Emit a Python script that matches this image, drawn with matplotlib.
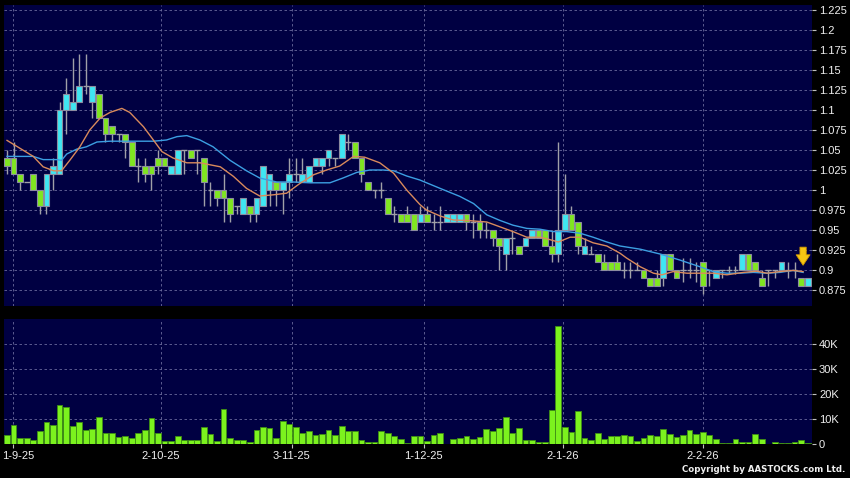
"""Daily candlestick chart with 2 moving averages and volume panel (AASTOCKS style)."""
import matplotlib
matplotlib.use('Agg')
import matplotlib.pyplot as plt
from matplotlib.transforms import ScaledTranslation
import numpy as np

# ---- data ------------------------------------------------------------------
opens = [1.04, 1.04, 1.02, 1.01, 1.02, 1.00, 0.98, 1.02, 1.02, 1.10,
         1.10, 1.11, 1.13, 1.11, 1.12, 1.09, 1.08, 1.07, 1.07, 1.06,
         1.03, 1.03, 1.03, 1.04, 1.04, 1.02, 1.02, 1.05, 1.05, 1.05,
         1.04, 1.00, 1.00, 1.00, 0.99, 0.98, 0.97, 0.98, 0.97, 0.98,
         1.00, 1.01, 1.00, 1.01, 1.02, 1.01, 1.01, 1.03, 1.03, 1.04,
         1.04, 1.04, 1.06, 1.06, 1.04, 1.01, 1.00, 1.00, 0.99, 0.97,
         0.97, 0.97, 0.97, 0.96, 0.97, 0.96, 0.96, 0.96, 0.96, 0.96,
         0.97, 0.96, 0.96, 0.95, 0.95, 0.94, 0.92, 0.94, 0.93, 0.93,
         0.94, 0.95, 0.95, 0.93, 0.92, 0.95, 0.97, 0.96, 0.92, 0.92,
         0.92, 0.91, 0.91, 0.91, 0.90, 0.90, 0.90, 0.90, 0.89, 0.89,
         0.89, 0.92, 0.90, 0.90, 0.90, 0.90, 0.91, 0.90, 0.89, 0.90,
         0.90, 0.90, 0.90, 0.92, 0.91, 0.89, 0.90, 0.90, 0.90, 0.90,
         0.90, 0.89, 0.88]
highs = [1.05, 1.06, 1.02, 1.01, 1.02, 1.00, 1.02, 1.04, 1.11, 1.14,
         1.165, 1.17, 1.17, 1.13, 1.12, 1.09, 1.08, 1.07, 1.07, 1.06,
         1.04, 1.04, 1.03, 1.05, 1.04, 1.03, 1.05, 1.05, 1.05, 1.05,
         1.04, 1.01, 1.00, 1.02, 0.99, 0.98, 0.99, 0.98, 0.99, 1.03,
         1.02, 1.01, 1.01, 1.04, 1.04, 1.04, 1.03, 1.04, 1.04, 1.05,
         1.04, 1.07, 1.07, 1.06, 1.04, 1.01, 1.00, 1.01, 0.99, 0.98,
         0.97, 0.98, 0.97, 0.98, 0.98, 0.97, 0.98, 0.97, 0.97, 0.97,
         0.97, 0.97, 0.97, 0.96, 0.95, 0.94, 0.94, 0.95, 0.93, 0.94,
         0.95, 0.95, 0.95, 0.95, 1.06, 1.02, 0.98, 0.96, 0.94, 0.93,
         0.92, 0.92, 0.91, 0.92, 0.91, 0.91, 0.91, 0.90, 0.89, 0.90,
         0.92, 0.92, 0.90, 0.915, 0.915, 0.91, 0.91, 0.90, 0.90, 0.90,
         0.905, 0.905, 0.92, 0.92, 0.91, 0.90, 0.90, 0.90, 0.91, 0.91,
         0.91, 0.89, 0.89]
lows = [1.02, 1.02, 1.00, 1.01, 1.00, 0.97, 0.97, 1.00, 1.02, 1.07,
        1.10, 1.11, 1.12, 1.09, 1.09, 1.06, 1.06, 1.06, 1.04, 1.03,
        1.01, 1.01, 1.00, 1.02, 1.03, 1.02, 1.02, 1.02, 1.04, 1.02,
        0.98, 0.98, 0.98, 0.96, 0.96, 0.97, 0.97, 0.96, 0.96, 0.98,
        0.98, 0.98, 0.97, 0.99, 1.01, 1.01, 1.01, 1.03, 1.02, 1.03,
        1.03, 1.04, 1.05, 1.04, 1.01, 1.00, 0.99, 0.99, 0.97, 0.96,
        0.96, 0.96, 0.95, 0.96, 0.96, 0.95, 0.95, 0.96, 0.96, 0.96,
        0.95, 0.94, 0.94, 0.94, 0.93, 0.90, 0.90, 0.92, 0.92, 0.93,
        0.94, 0.94, 0.93, 0.91, 0.91, 0.95, 0.95, 0.92, 0.92, 0.92,
        0.91, 0.90, 0.90, 0.90, 0.89, 0.89, 0.90, 0.89, 0.88, 0.88,
        0.88, 0.90, 0.89, 0.885, 0.89, 0.885, 0.87, 0.88, 0.89, 0.89,
        0.895, 0.895, 0.90, 0.90, 0.90, 0.88, 0.88, 0.89, 0.90, 0.89,
        0.89, 0.88, 0.88]
closes = [1.03, 1.02, 1.01, 1.01, 1.00, 0.98, 1.02, 1.03, 1.10, 1.12,
          1.11, 1.13, 1.13, 1.13, 1.09, 1.07, 1.07, 1.07, 1.06, 1.03,
          1.03, 1.02, 1.02, 1.03, 1.03, 1.03, 1.05, 1.05, 1.04, 1.05,
          1.01, 1.00, 0.99, 0.99, 0.97, 0.98, 0.99, 0.97, 0.99, 1.03,
          1.02, 1.00, 1.01, 1.02, 1.02, 1.02, 1.03, 1.04, 1.04, 1.05,
          1.04, 1.07, 1.06, 1.04, 1.02, 1.00, 1.00, 1.00, 0.97, 0.97,
          0.96, 0.96, 0.95, 0.97, 0.96, 0.96, 0.96, 0.97, 0.97, 0.97,
          0.96, 0.96, 0.95, 0.95, 0.94, 0.93, 0.94, 0.94, 0.92, 0.94,
          0.95, 0.94, 0.93, 0.92, 0.95, 0.97, 0.95, 0.93, 0.93, 0.92,
          0.91, 0.90, 0.90, 0.90, 0.90, 0.90, 0.90, 0.89, 0.88, 0.88,
          0.92, 0.90, 0.89, 0.90, 0.90, 0.90, 0.88, 0.90, 0.90, 0.90,
          0.90, 0.90, 0.92, 0.90, 0.90, 0.88, 0.90, 0.90, 0.91, 0.90,
          0.90, 0.88, 0.89]
volumes_k = [3.7, 7.7, 2.3, 2.5, 1.6, 5.3, 8.9, 7.5, 15.5, 14.8,
             7.1, 8.9, 5.6, 6.0, 10.9, 4.5, 4.3, 2.9, 3.1, 2.4,
             4.5, 5.6, 10.3, 4.5, 1.1, 1.2, 3.1, 1.6, 1.6, 1.6,
             6.7, 4.0, 1.1, 13.9, 2.5, 1.5, 1.5, 0.9, 5.5, 6.7,
             6.4, 2.4, 9.3, 8.0, 6.7, 4.5, 5.2, 3.5, 4.0, 5.7,
             3.7, 7.2, 5.1, 5.2, 1.6, 0.7, 0.8, 5.2, 4.3, 3.2,
             2.1, 0.4, 3.1, 3.2, 1.3, 3.7, 4.4, 0.1, 1.9, 2.3,
             3.3, 2.1, 2.9, 5.9, 5.3, 6.3, 10.7, 4.4, 6.3, 1.7,
             1.7, 0.8, 0.8, 13.7, 47.2, 6.7, 4.9, 13.3, 2.5, 1.6,
             4.4, 2.1, 3.3, 3.3, 3.5, 3.3, 1.3, 2.4, 3.7, 3.1,
             6.1, 4.1, 2.7, 3.7, 5.5, 4.1, 4.7, 3.7, 2.0, 0.4,
             0.4, 2.0, 0.9, 0.8, 3.9, 2.0, 0.1, 0.8, 0.2, 0.3,
             0.7, 1.6, 0.3]

# moving averages (bar index, price)
ma_fast_x = [0, 4.0, 5.5, 7.1, 8.3, 9.6, 11.1, 12.6, 14.2, 15.7, 17.5, 18.7,
             20.8, 22.3, 23.6, 25.3, 27.4, 29.4, 32.5, 34.5, 36.5, 38.5, 40.6,
             42.6, 44.6, 46.7, 48.7, 50.7, 52.8, 54.5, 56.8, 58.9, 60.9, 62.9,
             63.9, 66.0, 68.0, 70.0, 73.1, 75.1, 77.1, 79.2, 81.2, 82.7, 84.0,
             85.8, 87.3, 89.3, 91.4, 93.4, 94.4, 96.5, 98.5, 99.8, 101.5, 103.6,
             105.6, 107.6, 109.7, 112.2, 114.2, 115.8, 117.8, 119.8, 121.3]
ma_fast_y = [1.062, 1.042, 1.029, 1.024, 1.024, 1.0375, 1.054, 1.075, 1.090,
             1.097, 1.102, 1.097, 1.079, 1.0625, 1.048, 1.040, 1.034, 1.034,
             1.029, 1.017, 1.002, 0.9925, 0.994, 0.996, 1.008, 1.019, 1.025,
             1.030, 1.042, 1.041, 1.034, 1.021, 1.000, 0.982, 0.975, 0.9675,
             0.9625, 0.962, 0.960, 0.954, 0.948, 0.941, 0.941, 0.938, 0.935,
             0.941, 0.941, 0.934, 0.930, 0.921, 0.915, 0.904, 0.896, 0.894,
             0.898, 0.896, 0.896, 0.896, 0.894, 0.897, 0.8985, 0.896, 0.898,
             0.8995, 0.898]
ma_slow_x = [0, 4.0, 5.5, 7.6, 8.3, 9.1, 10.6, 12.1, 13.7, 15.7, 19.2, 22.3,
             24.3, 25.9, 27.4, 29.4, 31.4, 34.0, 36.5, 38.5, 41.1, 43.6, 46.2,
             49.2, 51.2, 53.3, 55.3, 57.3, 58.9, 60.9, 62.9, 66.0, 69.0, 71.1,
             73.1, 75.1, 77.1, 79.2, 81.2, 83.2, 85.3, 87.3, 89.3, 91.4, 93.4,
             96.5, 99.5, 102.5, 105.6, 107.6, 109.7, 111.7, 113.7, 115.8,
             117.8, 119.8, 121.3]
ma_slow_y = [1.042, 1.042, 1.038, 1.038, 1.037, 1.045, 1.051, 1.054, 1.060,
             1.061, 1.061, 1.061, 1.0625, 1.0667, 1.068, 1.0625, 1.054, 1.037,
             1.024, 1.015, 1.010, 1.010, 1.009, 1.009, 1.015, 1.022, 1.025,
             1.025, 1.024, 1.0175, 1.0125, 1.002, 0.992, 0.983, 0.969, 0.962,
             0.956, 0.952, 0.951, 0.948, 0.948, 0.946, 0.941, 0.935, 0.930,
             0.926, 0.920, 0.9125, 0.904, 0.898, 0.896, 0.896, 0.897, 0.896,
             0.897, 0.8995, 0.897]

date_ticks = [0.9, 23.4, 43.4, 63.5, 84.7, 106.0]
date_labels = ['1-9-25', '2-10-25', '3-11-25', '1-12-25', '2-1-26', '2-2-26']
price_ticks = [0.875, 0.9, 0.925, 0.95, 0.975, 1.0, 1.025, 1.05, 1.075,
               1.1, 1.125, 1.15, 1.175, 1.2, 1.225]
vol_ticks_k = [0, 10, 20, 30, 40]

# ---- style -----------------------------------------------------------------
BG = '#000042'
UP = '#3fe6f2'
DOWN = '#80e620'
EDGE = '#8c8ca0'
WICK = '#a0a0a8'
GRID = '#6a6a9c'
TXT = '#f0f0f0'
plt.rcParams['font.family'] = ['Liberation Sans', 'DejaVu Sans']

o, h, l, c = map(np.asarray, (opens, highs, lows, closes))
x = np.arange(len(c))
vol = np.asarray(volumes_k) * 1000

fig = plt.figure(figsize=(8.5, 4.78), dpi=100, facecolor='black')
ax = fig.add_axes([4 / 850, 1 - 306 / 478, 808 / 850, 301 / 478], facecolor=BG)
axv = fig.add_axes([4 / 850, 1 - 444 / 478, 808 / 850, 125 / 478], facecolor=BG)

for a in (ax, axv):
    for sp in a.spines.values():
        sp.set_visible(False)
    a.set_xlim(-0.46, 122.66)
    a.set_xticks(date_ticks)
    a.grid(True, color=GRID, ls=(0, (3, 3)), lw=0.6)
    a.set_axisbelow(True)
    a.yaxis.tick_right()
    a.tick_params(axis='y', colors='#c0c0c0', labelcolor=TXT, length=3,
                  width=0.8, labelsize=8, pad=2)

# price panel
ax.vlines(x, l, h, color=WICK, lw=1, zorder=2)
flat = o == c
rise = c > o
body_lo = np.minimum(o, c)
body_h = np.abs(c - o)
ax.bar(x[~flat], body_h[~flat], bottom=body_lo[~flat], width=0.88,
       color=np.where(rise, UP, DOWN)[~flat], edgecolor=EDGE, lw=0.8, zorder=3)
ax.hlines(c[flat], x[flat] - 0.45, x[flat] + 0.45, color=WICK, lw=1, zorder=3)
ax.plot(ma_slow_x, ma_slow_y, color='#3c9fe2', lw=1, zorder=4)
ax.plot(ma_fast_x, ma_fast_y, color='#d98a5c', lw=1, zorder=4)

ax.set_ylim(0.855, 1.23125)
ax.set_yticks(price_ticks)
ax.set_yticklabels([f'{t:g}' for t in price_ticks])
ax.tick_params(axis='x', length=0, labelbottom=False)

# yellow marker arrow over the last bar
ax.annotate('', xy=(x[-1] - 0.7, h[-1] + 0.0125), xytext=(0, 17),
            textcoords='offset points',
            arrowprops=dict(arrowstyle='simple,head_length=0.75,head_width=1.0,tail_width=0.45',
                            mutation_scale=10, fc='#f7c613', ec='#d49a00', lw=0.6),
            zorder=6)

# volume panel
axv.bar(x, vol, width=0.88, color='#7cf21e', edgecolor='#3f8f14', lw=0.6, zorder=3)
axv.set_ylim(0, 49800)
axv.set_yticks([v * 1000 for v in vol_ticks_k])
axv.set_yticklabels(['0' if v == 0 else f'{v}K' for v in vol_ticks_k])
axv.set_xticklabels(date_labels)
axv.tick_params(axis='x', colors='#c0c0c0', labelcolor=TXT, length=3,
                width=0.8, labelsize=8, pad=2)
# first date label sits at the left edge: anchor it left so it stays readable
first = axv.get_xticklabels()[0]
first.set_horizontalalignment('left')
first.set_transform(first.get_transform()
                    + ScaledTranslation(-11 / 100, 0, fig.dpi_scale_trans))

fig.text(0.994, 0.008, 'Copyright by AASTOCKS.com Ltd.', ha='right', va='bottom',
         color=TXT, fontsize=6.2, fontweight='bold', family='DejaVu Sans')

fig.savefig('out.png', dpi=100, facecolor='black')
plt.close(fig)
